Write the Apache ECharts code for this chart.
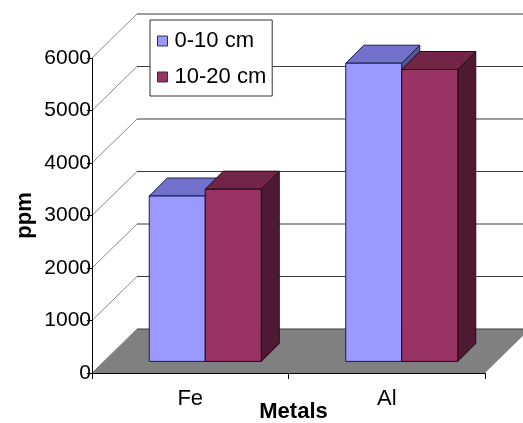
<!DOCTYPE html>
<html>
<head>
<meta charset="utf-8">
<script src="https://cdn.jsdelivr.net/npm/echarts@6/dist/echarts.min.js"></script>
<style>
  html, body { margin: 0; padding: 0; background: #fff; }
  #chart { width: 523px; height: 423px; }
</style>
</head>
<body>
<div id="chart"></div>
<script>
// Metal concentrations by soil depth
const categories = ['Fe', 'Al'];
const seriesNames = ['0-10 cm', '10-20 cm'];
const depth0to10 = [3150, 5680];
const depth10to20 = [3280, 5560];
const valueTicks = [0, 1000, 2000, 3000, 4000, 5000, 6000];

const FONT = '"Liberation Sans", Arial, sans-serif';

// oblique depth of the plot box (front plane -> back wall), px
const WALL_DX = 45, WALL_DY = 44;
// bar placement inside that depth
const BAR_FRONT_DX = 15, BAR_FRONT_DY = 11.6;
const BAR_DEPTH = 18;
const BAR_FRACTION = 0.285;

const faces = [
  { front: '#9999FF', top: '#7272CC', side: '#55559A', edge: '#1C1C4A' },
  { front: '#993366', top: '#732548', side: '#4E1A33', edge: '#220A16' }
];

function floorItem(params, api) {
  const r = params.coordSys;
  const y0 = r.y + r.height;
  return {
    type: 'polygon',
    shape: { points: [
      [r.x, y0], [r.x + r.width, y0],
      [r.x + r.width + WALL_DX, y0 - WALL_DY], [r.x + WALL_DX, y0 - WALL_DY]
    ] },
    style: { fill: '#808080', stroke: null }
  };
}

function gridItem(params, api) {
  const r = params.coordSys;
  const y = api.coord([0, api.value(1)])[1];
  return {
    type: 'group',
    children: [
      { type: 'line',
        shape: { x1: r.x, y1: y, x2: r.x + WALL_DX, y2: y - WALL_DY },
        style: { stroke: '#8a8a8a', lineWidth: 1 } },
      { type: 'line',
        shape: { x1: r.x + WALL_DX, y1: y - WALL_DY, x2: r.x + r.width + WALL_DX, y2: y - WALL_DY },
        style: { stroke: '#3a3a3a', lineWidth: 1 } }
    ]
  };
}

function makeBarRenderer(slot) {
  const c = faces[slot];
  return function (params, api) {
    const cat = api.value(0);
    const top = api.coord([cat, api.value(1)]);
    const base = api.coord([cat, 0]);
    const band = api.size([1, 0])[0];
    const w = band * BAR_FRACTION;
    const x0 = top[0] + BAR_FRONT_DX + (slot === 0 ? -w : 0);
    const x1 = x0 + w;
    const yT = top[1] - BAR_FRONT_DY;
    const yB = base[1] - BAR_FRONT_DY;
    const d = BAR_DEPTH;
    const edge = { stroke: c.edge, lineWidth: 1 };
    return {
      type: 'group',
      children: [
        { type: 'polygon',
          shape: { points: [[x1, yT], [x1 + d, yT - d], [x1 + d, yB - d], [x1, yB]] },
          style: Object.assign({ fill: c.side }, edge) },
        { type: 'polygon',
          shape: { points: [[x0, yT], [x0 + d, yT - d], [x1 + d, yT - d], [x1, yT]] },
          style: Object.assign({ fill: c.top }, edge) },
        { type: 'rect',
          shape: { x: x0, y: yT, width: w, height: yB - yT },
          style: Object.assign({ fill: c.front }, edge) }
      ]
    };
  };
}

const chart = echarts.init(document.getElementById('chart'), null, { renderer: 'canvas' });

chart.setOption({
  animation: false,
  backgroundColor: '#ffffff',
  textStyle: { fontFamily: FONT },
  grid: { left: 92, right: 38, top: 58, bottom: 50, containLabel: false, outerBoundsMode: 'none' },
  legend: {
    orient: 'vertical',
    left: 150,
    top: 20,
    padding: [10, 6, 8, 7],
    itemGap: 14,
    itemWidth: 10,
    itemHeight: 10,
    backgroundColor: '#ffffff',
    borderColor: '#333333',
    borderWidth: 1,
    textStyle: { fontFamily: FONT, fontSize: 22, color: '#000', padding: [0, 0, 0, 2] },
    data: [
      { name: seriesNames[0], icon: 'rect', itemStyle: { color: faces[0].front, borderColor: '#333', borderWidth: 1 } },
      { name: seriesNames[1], icon: 'rect', itemStyle: { color: faces[1].front, borderColor: '#333', borderWidth: 1 } }
    ]
  },
  xAxis: {
    type: 'category',
    data: categories,
    boundaryGap: true,
    z: 5,
    name: 'Metals',
    nameLocation: 'middle',
    nameGap: 28,
    nameMoveOverlap: false,
    nameTextStyle: { fontFamily: FONT, fontSize: 22, fontWeight: 'bold', color: '#000', padding: [0, 0, 0, 10] },
    axisLine: { show: true, lineStyle: { color: '#000', width: 1 } },
    axisTick: { show: true, length: 6, alignWithLabel: false, lineStyle: { color: '#000' } },
    axisLabel: { fontFamily: FONT, fontSize: 22, color: '#000', margin: 15 },
    splitLine: { show: false }
  },
  yAxis: {
    type: 'value',
    min: 0,
    max: 6000,
    interval: 1000,
    z: 5,
    name: 'ppm',
    nameLocation: 'middle',
    nameRotate: 90,
    nameGap: 56,
    nameMoveOverlap: false,
    nameTextStyle: { fontFamily: FONT, fontSize: 22, fontWeight: 'bold', color: '#000' },
    axisLine: { show: true, lineStyle: { color: '#000', width: 1 } },
    axisTick: { show: true, length: 5, lineStyle: { color: '#000' } },
    axisLabel: { fontFamily: FONT, fontSize: 21, color: '#000', margin: 1, formatter: v => String(v) },
    splitLine: { show: false }
  },
  series: [
    { type: 'custom', name: 'floor', z: 1, silent: true,
      renderItem: floorItem, data: [[0, 0]] },
    { type: 'custom', name: 'wall', z: 1, silent: true,
      renderItem: gridItem, data: valueTicks.map(v => [0, v]) },
    { type: 'custom', name: seriesNames[0], z: 2,
      itemStyle: { color: faces[0].front },
      renderItem: makeBarRenderer(0),
      data: depth0to10.map((v, i) => [i, v]) },
    { type: 'custom', name: seriesNames[1], z: 2,
      itemStyle: { color: faces[1].front },
      renderItem: makeBarRenderer(1),
      data: depth10to20.map((v, i) => [i, v]) }
  ]
});
</script>
</body>
</html>
